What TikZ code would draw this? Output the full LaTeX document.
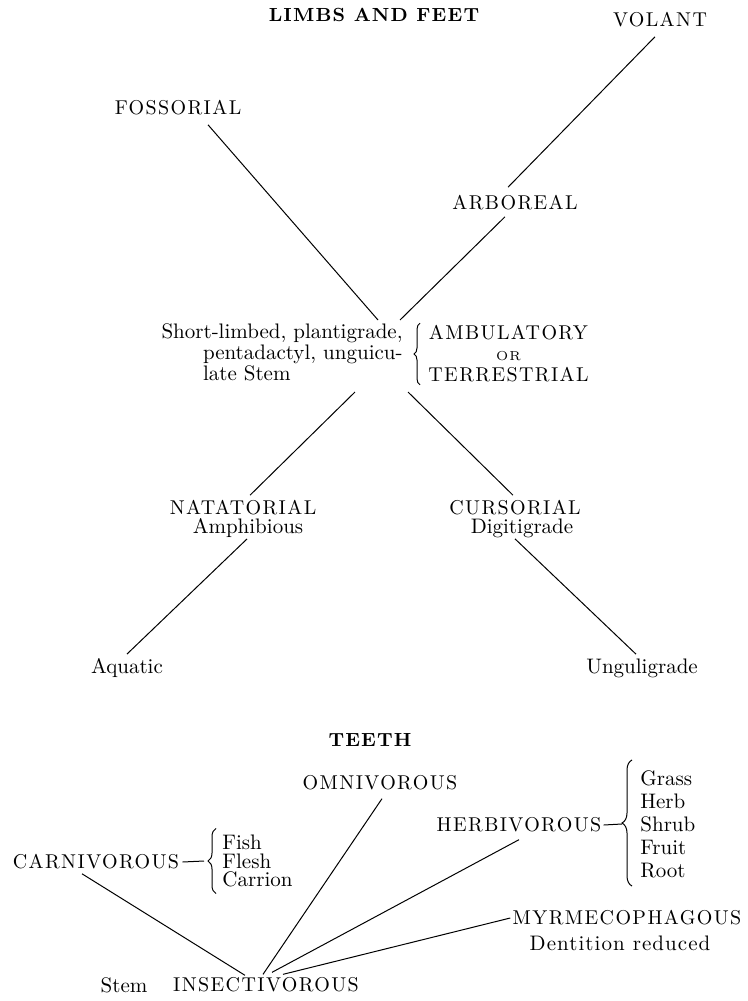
\documentclass[tikz,border=0pt]{standalone}
\usepackage{fontspec}
\setmainfont{Latin Modern Roman}
\usetikzlibrary{decorations.pathreplacing}
\newcommand\capsfont{\fontsize{10}{10.5}\selectfont\addfontfeature{LetterSpace=7}}
\newcommand\bodyfont{\fontsize{10.5}{10.5}\selectfont}
\newcommand\headfont{\fontsize{9.5}{9.5}\selectfont\bfseries\addfontfeature{LetterSpace=6}}
\tikzset{
  capnode/.style={font=\capsfont, inner sep=0pt},
  textnode/.style={font=\bodyfont, inner sep=0pt},
  headnode/.style={font=\headfont, inner sep=0pt},
  bracket/.style={decorate, decoration={brace, amplitude=#1}, line width=0.5pt},
  bracket/.default=4pt,
  branch/.style={line width=0.5pt}
}
\begin{document}
\begin{tikzpicture}[x=0.5pt, y=-0.5pt]
            \useasboundingbox (0,0) rectangle (748,1001);

            \node[headnode] (limbs) at (374,15) {LIMBS AND FEET};
            \node[capnode] (volant) at (660,20) {VOLANT};
            \node[capnode] (foss) at (178,108) {FOSSORIAL};
            \node[capnode] (arbor) at (515,203) {ARBOREAL};
            \node[textnode, align=right, anchor=east] (stem) at (403,354)
                {Short-limbed, plantigrade,\\pentadactyl, unguicu-\\\rlap{late Stem}\phantom{pentadactyl, unguicu-}};
            \node[capnode, align=center, anchor=west] (ambul) at (428,354)
                {AMBULATORY\\{\fontsize{6.5}{10.5}\selectfont OR}\\TERRESTRIAL};
            \node[capnode] (natat) at (243,508) {NATATORIAL};
            \node[textnode] (amphib) at (248,528) {Amphibious};
            \node[capnode] (cursor) at (515,508) {CURSORIAL};
            \node[textnode] (digit) at (522,528) {Digitigrade};
            \node[textnode] (aquat) at (127,668) {Aquatic};
            \node[textnode] (ungul) at (642,668) {Unguligrade};

            \coordinate (nw) at (378,320);
            \coordinate (ne) at (400,320);
            \coordinate (sw) at (355,392);
            \coordinate (se) at (408,392);

            \draw[branch] ([xshift=-2.5pt,yshift=-4.5pt]volant.south) -- ([xshift=-3.5pt,yshift=4pt]arbor.north);
            \draw[branch] ([xshift=-5pt,yshift=-3pt]arbor.south) -- (ne);
            \draw[branch] ([xshift=15pt,yshift=-4.5pt]foss.south) -- (nw);
            \draw[branch] (sw) -- ([xshift=3.5pt,yshift=2.5pt]natat.north);
            \draw[branch] (se) -- ([xshift=-1pt,yshift=2.5pt]cursor.north);
            \draw[branch] ([xshift=-0.5pt,yshift=-0.5pt]amphib.south) -- ([yshift=2pt]aquat.north);
            \draw[branch] ([xshift=-3.5pt,yshift=-0.5pt]digit.south) -- ([xshift=-3pt,yshift=2pt]ungul.north);
            \draw[bracket=3pt] ([xshift=-4pt,yshift=-1pt]ambul.south west) -- ([xshift=-4pt,yshift=1pt]ambul.north west);

            \node[headnode] (teeth) at (370,740) {TEETH};
            \node[capnode] (omni) at (380,783) {OMNIVOROUS};
            \node[capnode] (herb) at (519,825) {HERBIVOROUS};
            \node[textnode, align=left, anchor=west, font=\fontsize{10.5}{11.5}\selectfont] (herbfood) at (640,824)
                {Grass\\Herb\\Shrub\\Fruit\\Root};
            \node[capnode] (carn) at (96,862) {CARNIVOROUS};
            \node[textnode, align=left, anchor=west, font=\fontsize{10.5}{9.3}\selectfont] (carnfood) at (222,861)
                {Fish\\Flesh\\Carrion};
            \node[capnode] (myrm) at (627,918) {MYRMECOPHAGOUS};
            \node[textnode, font=\bodyfont\addfontfeature{LetterSpace=5}] (dent) at (620,943) {Dentition reduced};
            \node[textnode] (stemb) at (124,985) {Stem};
            \node[capnode] (insect) at (266,985) {INSECTIVOROUS};

            \draw[bracket=5pt] ([xshift=-4pt,yshift=-4pt]herbfood.south west) -- ([xshift=-4pt,yshift=5pt]herbfood.north west);
            \draw[bracket] ([xshift=-3pt,yshift=-3pt]carnfood.south west) -- ([xshift=-3pt,yshift=3pt]carnfood.north west);
            \draw[branch] ([xshift=1pt]herb.east) -- ([xshift=-9pt]herbfood.west);
            \draw[branch] ([xshift=1.5pt]carn.east) -- ([xshift=-9pt]carnfood.west);

            \draw[branch] ([xshift=-7pt,yshift=-2pt]carn.south) -- ([xshift=-10.5pt,yshift=1pt]insect.north);
            \draw[branch] ([xshift=1pt,yshift=-4pt]omni.south) -- ([xshift=-1.5pt,yshift=1.5pt]insect.north);
            \draw[branch] ([yshift=-3.5pt]herb.south) -- ([xshift=3pt,yshift=2.5pt]insect.north);
            \draw[branch] ([xshift=-1pt]myrm.west) -- ([xshift=8.5pt,yshift=1.5pt]insect.north);
        \end{tikzpicture}
\end{document}
